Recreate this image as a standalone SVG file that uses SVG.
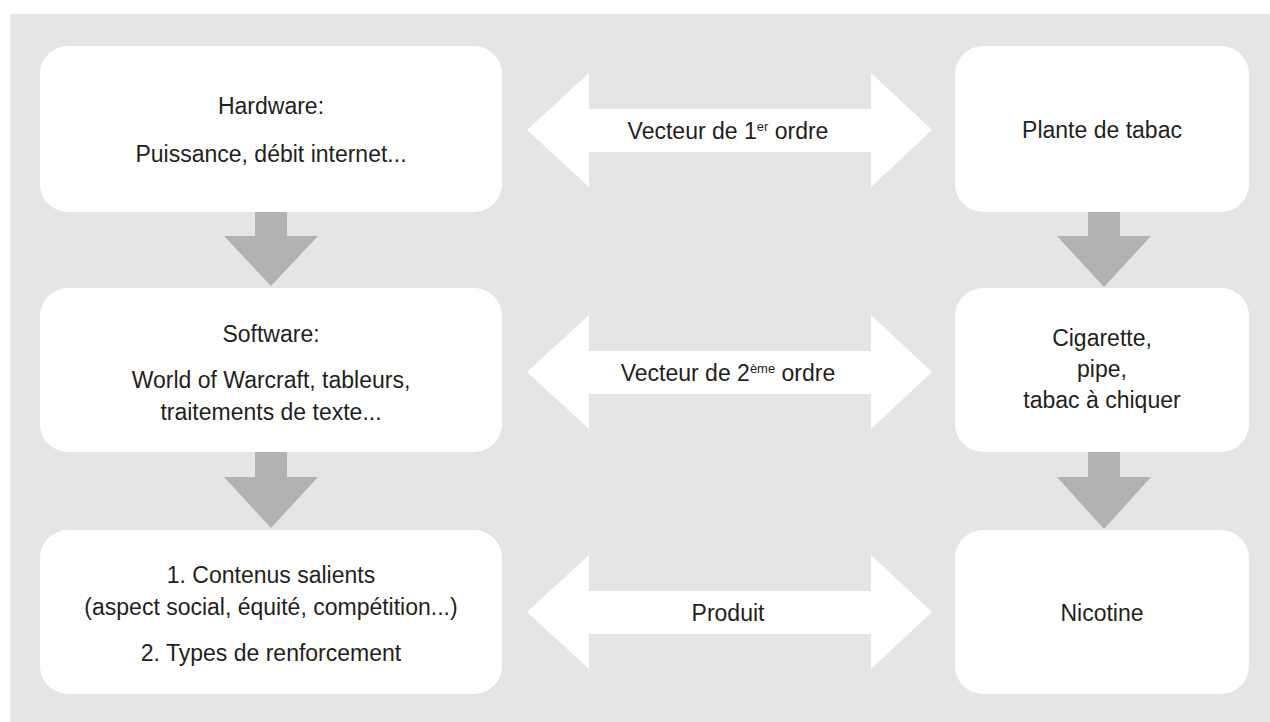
<svg xmlns="http://www.w3.org/2000/svg" width="1270" height="722" viewBox="0 0 1270 722">
  <style>
    .bg { fill: #e5e5e5; }
    .box { fill: #ffffff; }
    .down { fill: #b2b2b2; }
    .dbl { fill: #ffffff; }
    text { font-family: "Liberation Sans", Arial, sans-serif; font-size: 23px; fill: #231f20; text-anchor: middle; }
    .sup { font-size: 13px; }
  </style>
  <rect class="bg" x="10" y="14" width="1260" height="708"/>

  <g id="connectors">
    <!-- vertical arrows left -->
    <polygon class="down" points="255,212 287,212 287,236 318,236 271,286 224,236 255,236"/>
    <polygon class="down" points="255,452 287,452 287,477 318,477 271,528 224,477 255,477"/>
    <!-- vertical arrows right -->
    <polygon class="down" points="1088,212 1120,212 1120,236 1151,236 1104,287 1057,236 1088,236"/>
    <polygon class="down" points="1088,452 1120,452 1120,477 1151,477 1104,529 1057,477 1088,477"/>
    <!-- double arrows -->
    <g id="vecteur1">
      <polygon class="dbl" points="527,130 589,73 589,109 871,109 871,73 932,130 871,187 871,152 589,152 589,187"/>
      <text x="728" y="139">Vecteur de 1<tspan class="sup" dy="-8">er</tspan><tspan dy="8"> ordre</tspan></text>
    </g>
    <g id="vecteur2">
      <polygon class="dbl" points="527,372 589,315 589,351 871,351 871,315 932,372 871,429 871,394 589,394 589,429"/>
      <text x="728" y="381">Vecteur de 2<tspan class="sup" dy="-8">ème</tspan><tspan dy="8"> ordre</tspan></text>
    </g>
    <g id="produit">
      <polygon class="dbl" points="527,612 589,555 589,591 871,591 871,555 932,612 871,669 871,634 589,634 589,669"/>
      <text x="728" y="621">Produit</text>
    </g>
  </g>

  <g id="hardware">
    <rect class="box" x="40" y="46" width="462" height="166" rx="28" ry="28"/>
    <text x="271" y="114">Hardware:</text>
    <text x="271" y="162">Puissance, débit internet...</text>
  </g>
  <g id="software">
    <rect class="box" x="40" y="288" width="462" height="164" rx="28" ry="28"/>
    <text x="271" y="342">Software:</text>
    <text x="271" y="388">World of Warcraft, tableurs,</text>
    <text x="271" y="420">traitements de texte...</text>
  </g>
  <g id="contenus">
    <rect class="box" x="40" y="530" width="462" height="164" rx="28" ry="28"/>
    <text x="271" y="583">1. Contenus salients</text>
    <text x="271" y="615">(aspect social, équité, compétition...)</text>
    <text x="271" y="661">2. Types de renforcement</text>
  </g>
  <g id="plante">
    <rect class="box" x="955" y="46" width="294" height="166" rx="28" ry="28"/>
    <text x="1102" y="138">Plante de tabac</text>
  </g>
  <g id="cigarette">
    <rect class="box" x="955" y="288" width="294" height="164" rx="28" ry="28"/>
    <text x="1102" y="346">Cigarette,</text>
    <text x="1102" y="377">pipe,</text>
    <text x="1102" y="408">tabac à chiquer</text>
  </g>
  <g id="nicotine">
    <rect class="box" x="955" y="530" width="294" height="164" rx="28" ry="28"/>
    <text x="1102" y="621">Nicotine</text>
  </g>
</svg>
